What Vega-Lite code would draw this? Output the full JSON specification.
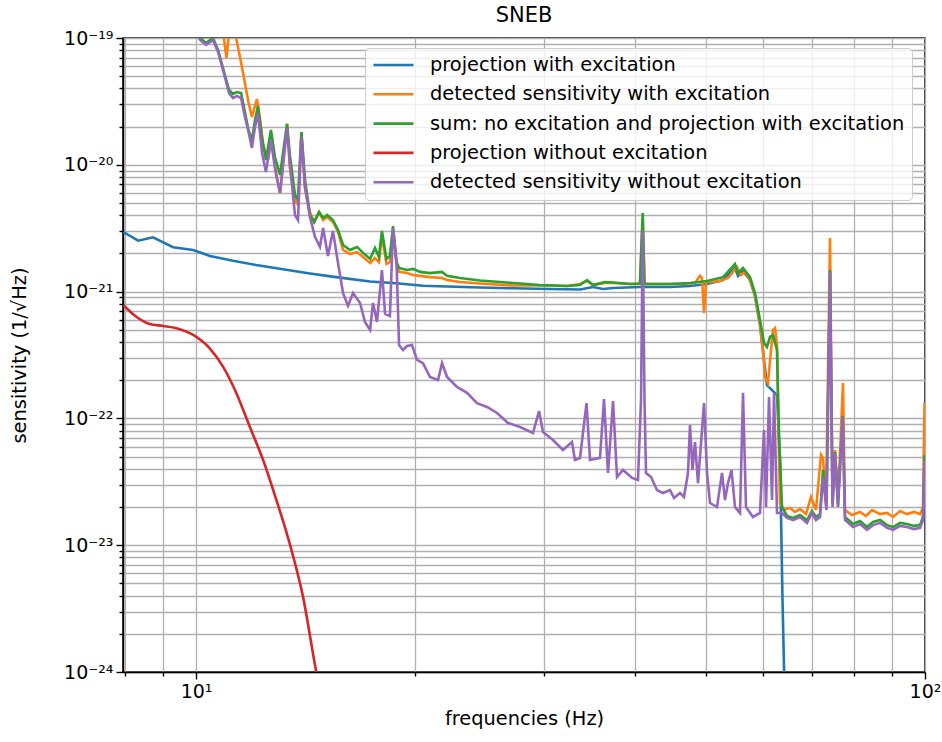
{
  "$schema": "https://vega.github.io/schema/vega-lite/v6.json",
  "width": 802,
  "height": 634,
  "autosize": {"type": "none"},
  "padding": {"left": 123, "top": 38, "right": 17, "bottom": 70},
  "background": "white",
  "title": {"text": "SNEB", "fontSize": 21, "fontWeight": "normal", "font": "DejaVu Sans", "color": "black", "frame": "group", "anchor": "middle", "offset": 3},
  "config": {
    "font": "DejaVu Sans",
    "view": {"stroke": "black", "strokeWidth": 1.5},
    "axis": {
      "grid": true, "gridColor": "#b0b0b0", "gridWidth": 1.3,
      "domainColor": "black", "domainWidth": 1.5,
      "tickColor": "black", "tickWidth": 1.4,
      "labelColor": "black", "labelFont": "DejaVu Sans", "labelFontSize": 19,
      "labelFlush": false, "labelOverlap": false, "labelBound": false,
      "titleFont": "DejaVu Sans", "titleFontSize": 19.4, "titleFontWeight": "normal", "titleColor": "black"
    },
    "legend": {
      "orient": "none", "legendX": 242, "legendY": 10,
      "padding": 7, "fillColor": "rgba(255,255,255,0.8)", "strokeColor": "#cccccc", "cornerRadius": 4,
      "symbolType": "stroke", "symbolSize": 1600, "symbolStrokeWidth": 2.6,
      "labelFont": "DejaVu Sans", "labelFontSize": 19.4, "labelColor": "black", "labelLimit": 700, "labelOffset": 15,
      "clipHeight": 20, "rowPadding": 9.3
    }
  },
  "encoding": {
    "x": {
      "field": "f", "type": "quantitative",
      "scale": {"type": "log", "domain": [7.94, 100], "nice": false},
      "axis": {
        "title": "frequencies (Hz)", "titlePadding": 8,
        "values": [8, 9, 10, 20, 30, 40, 50, 60, 70, 80, 90, 100],
        "labelExpr": "datum.value == 10 ? '10¹' : (datum.value == 100 ? '10²' : '')",
        "tickSize": {"condition": {"test": "datum.value == 10 || datum.value == 100", "value": 7}, "value": 4},
        "labelPadding": 3
      }
    },
    "y": {
      "field": "s", "type": "quantitative",
      "scale": {"type": "log", "domain": [1e-24, 1e-19], "nice": false},
      "axis": {
        "title": "sensitivity (1/√Hz)", "titlePadding": 34,
        "values": [1e-24, 2e-24, 3e-24, 4e-24, 5e-24, 6e-24, 7e-24, 8e-24, 9e-24, 1e-23, 2e-23, 3e-23, 4e-23, 5e-23, 6e-23, 7e-23, 8e-23, 9e-23, 1e-22, 2e-22, 3e-22, 4e-22, 5e-22, 6e-22, 7e-22, 8e-22, 9e-22, 1e-21, 2e-21, 3e-21, 4e-21, 5e-21, 6e-21, 7e-21, 8e-21, 9e-21, 1e-20, 2e-20, 3e-20, 4e-20, 5e-20, 6e-20, 7e-20, 8e-20, 9e-20, 1e-19],
        "labelExpr": "indexof([1e-24,1e-23,1e-22,1e-21,1e-20,1e-19], datum.value) < 0 ? '' : ['10⁻²⁴','10⁻²³','10⁻²²','10⁻²¹','10⁻²⁰','10⁻¹⁹'][indexof([1e-24,1e-23,1e-22,1e-21,1e-20,1e-19], datum.value)]",
        "tickSize": {"condition": {"test": "indexof([1e-24,1e-23,1e-22,1e-21,1e-20,1e-19], datum.value) >= 0", "value": 7}, "value": 4},
        "labelPadding": 3
      }
    }
  },
  "layer": [
    {
      "data": {"values": [
        {"f":7.95,"s":2.95e-21},{"f":8.33,"s":2.52e-21},{"f":8.73,"s":2.68e-21},{"f":9.30,"s":2.24e-21},{"f":9.91,"s":2.13e-21},{"f":10.45,"s":1.91e-21},{"f":11.24,"s":1.75e-21},{"f":12.09,"s":1.62e-21},{"f":13.16,"s":1.50e-21},{"f":14.33,"s":1.39e-21},{"f":15.56,"s":1.30e-21},{"f":17.33,"s":1.20e-21},{"f":18.81,"s":1.163e-21},{"f":20.48,"s":1.113e-21},{"f":22.10,"s":1.096e-21},{"f":24.52,"s":1.077e-21},{"f":27.22,"s":1.062e-21},{"f":30.59,"s":1.048e-21},{"f":33.63,"s":1.038e-21},{"f":35.04,"s":1.087e-21},{"f":36.16,"s":1.048e-21},{"f":37.33,"s":1.067e-21},{"f":40.64,"s":1.087e-21},{"f":44.69,"s":1.087e-21},{"f":47.60,"s":1.107e-21},{"f":50.23,"s":1.148e-21},{"f":52.84,"s":1.234e-21},{"f":54.87,"s":1.535e-21},{"f":55.40,"s":1.33e-21},{"f":56.28,"s":1.45e-21},{"f":57.54,"s":1.234e-21},{"f":58.45,"s":9.23e-22},{"f":59.38,"s":5.45e-22},{"f":60.14,"s":2.89e-22},{"f":60.71,"s":1.83e-22},{"f":61.68,"s":1.67e-22},{"f":62.66,"s":1.53e-22},{"f":63.26,"s":4.70e-23},{"f":63.76,"s":3.70e-24},{"f":64.16,"s":7.2e-25}
      ]},
      "mark": {"type": "line", "clip": true, "strokeWidth": 2.6},
      "encoding": {
        "color": {
          "datum": "projection with excitation", "type": "nominal",
          "scale": {
            "domain": ["projection with excitation", "detected sensitivity with excitation", "sum: no excitation and projection with excitation", "projection without excitation", "detected sensitivity without excitation"],
            "range": ["#1f77b4", "#ff7f0e", "#2ca02c", "#d62728", "#9467bd"]
          },
          "legend": {"title": null}
        }
      }
    },
    {
      "data": {"values": [
        {"f":10.75,"s":1.16e-19},{"f":10.92,"s":1.0e-19},{"f":11.01,"s":6.95e-20},{"f":11.08,"s":1.0e-19},{"f":11.20,"s":1.16e-19},{"f":11.35,"s":1.0e-19},{"f":11.49,"s":7.08e-20},{"f":11.67,"s":4.42e-20},{"f":11.80,"s":3.13e-20},{"f":11.93,"s":2.38e-20},{"f":12.12,"s":3.30e-20},{"f":12.24,"s":2.30e-20},{"f":12.36,"s":1.43e-20},{"f":12.55,"s":1.091e-20},{"f":12.71,"s":1.63e-20},{"f":12.89,"s":8.16e-21},{"f":13.04,"s":5.99e-21},{"f":13.33,"s":2.10e-20},{"f":13.45,"s":9.44e-21},{"f":13.67,"s":5.28e-21},{"f":13.80,"s":4.82e-21},{"f":13.95,"s":1.81e-20},{"f":14.11,"s":6.45e-21},{"f":14.33,"s":4.24e-21},{"f":14.52,"s":3.54e-21},{"f":14.75,"s":4.24e-21},{"f":14.94,"s":3.67e-21},{"f":15.13,"s":3.88e-21},{"f":15.41,"s":3.54e-21},{"f":15.66,"s":2.95e-21},{"f":15.91,"s":2.13e-21},{"f":16.26,"s":1.98e-21},{"f":16.63,"s":2.05e-21},{"f":16.95,"s":1.875e-21},{"f":17.33,"s":1.68e-21},{"f":17.60,"s":1.84e-21},{"f":17.82,"s":1.71e-21},{"f":17.99,"s":2.74e-21},{"f":18.25,"s":1.65e-21},{"f":18.45,"s":1.71e-21},{"f":18.63,"s":3.06e-21},{"f":18.84,"s":1.62e-21},{"f":18.99,"s":1.43e-21},{"f":19.47,"s":1.40e-21},{"f":19.85,"s":1.35e-21},{"f":20.29,"s":1.33e-21},{"f":20.94,"s":1.30e-21},{"f":21.75,"s":1.28e-21},{"f":22.10,"s":1.234e-21},{"f":23.02,"s":1.19e-21},{"f":24.52,"s":1.158e-21},{"f":27.22,"s":1.117e-21},{"f":30.30,"s":1.117e-21},{"f":32.28,"s":1.107e-21},{"f":33.63,"s":1.148e-21},{"f":34.39,"s":1.212e-21},{"f":35.04,"s":1.127e-21},{"f":36.39,"s":1.169e-21},{"f":37.33,"s":1.169e-21},{"f":39.39,"s":1.148e-21},{"f":40.64,"s":1.148e-21},{"f":41.00,"s":3.81e-21},{"f":41.23,"s":1.148e-21},{"f":43.30,"s":1.148e-21},{"f":46.12,"s":1.148e-21},{"f":48.36,"s":1.169e-21},{"f":49.13,"s":1.33e-21},{"f":49.44,"s":1.28e-21},{"f":49.76,"s":6.78e-22},{"f":50.07,"s":1.19e-21},{"f":51.03,"s":1.19e-21},{"f":52.33,"s":1.212e-21},{"f":53.67,"s":1.28e-21},{"f":54.53,"s":1.43e-21},{"f":55.22,"s":1.56e-21},{"f":55.92,"s":1.35e-21},{"f":56.63,"s":1.43e-21},{"f":57.54,"s":1.234e-21},{"f":58.45,"s":9.40e-22},{"f":59.38,"s":5.45e-22},{"f":59.95,"s":3.46e-22},{"f":60.33,"s":2.12e-22},{"f":60.90,"s":1.90e-22},{"f":61.49,"s":3.46e-22},{"f":61.87,"s":4.98e-22},{"f":62.27,"s":5.16e-22},{"f":62.66,"s":3.79e-22},{"f":62.96,"s":7.67e-23},{"f":63.26,"s":2.15e-23},{"f":64.06,"s":1.895e-23},{"f":65.28,"s":1.97e-23},{"f":66.33,"s":1.83e-23},{"f":67.38,"s":1.93e-23},{"f":68.67,"s":1.76e-23},{"f":69.76,"s":2.40e-23},{"f":70.87,"s":1.895e-23},{"f":72.00,"s":5.15e-23},{"f":72.46,"s":4.87e-23},{"f":73.15,"s":2.08e-23},{"f":74.08,"s":2.65e-21},{"f":74.67,"s":2.27e-23},{"f":75.26,"s":5.63e-23},{"f":75.97,"s":2.27e-23},{"f":77.18,"s":1.90e-22},{"f":77.67,"s":1.895e-23},{"f":79.41,"s":1.73e-23},{"f":81.44,"s":1.83e-23},{"f":82.99,"s":1.70e-23},{"f":84.59,"s":1.895e-23},{"f":86.76,"s":1.76e-23},{"f":88.70,"s":1.795e-23},{"f":90.40,"s":1.67e-23},{"f":92.42,"s":1.86e-23},{"f":94.47,"s":1.76e-23},{"f":96.58,"s":1.83e-23},{"f":98.43,"s":1.76e-23},{"f":99.37,"s":1.97e-23},{"f":99.84,"s":1.32e-22}
      ]},
      "mark": {"type": "line", "clip": true, "strokeWidth": 2.6},
      "encoding": {"color": {"datum": "detected sensitivity with excitation", "type": "nominal"}}
    },
    {
      "data": {"values": [
        {"f":9.97,"s":1.27e-19},{"f":10.13,"s":1.0e-19},{"f":10.32,"s":9.13e-20},{"f":10.55,"s":1.0e-19},{"f":10.72,"s":8.04e-20},{"f":10.89,"s":5.80e-20},{"f":11.10,"s":3.89e-20},{"f":11.24,"s":3.62e-20},{"f":11.38,"s":3.75e-20},{"f":11.53,"s":3.68e-20},{"f":11.67,"s":2.61e-20},{"f":11.80,"s":1.88e-20},{"f":11.93,"s":1.57e-20},{"f":12.05,"s":2.26e-20},{"f":12.16,"s":2.91e-20},{"f":12.32,"s":1.63e-20},{"f":12.47,"s":1.091e-20},{"f":12.67,"s":1.88e-20},{"f":12.83,"s":1.152e-20},{"f":13.04,"s":8.31e-21},{"f":13.33,"s":2.10e-20},{"f":13.45,"s":1.195e-20},{"f":13.67,"s":5.78e-21},{"f":13.80,"s":5.28e-21},{"f":13.95,"s":1.81e-20},{"f":14.11,"s":7.59e-21},{"f":14.33,"s":4.02e-21},{"f":14.52,"s":3.54e-21},{"f":14.75,"s":4.24e-21},{"f":14.94,"s":3.81e-21},{"f":15.13,"s":4.02e-21},{"f":15.41,"s":3.67e-21},{"f":15.66,"s":3.06e-21},{"f":15.91,"s":2.33e-21},{"f":16.26,"s":2.13e-21},{"f":16.63,"s":2.25e-21},{"f":16.95,"s":2.02e-21},{"f":17.33,"s":1.81e-21},{"f":17.60,"s":2.21e-21},{"f":17.82,"s":1.875e-21},{"f":17.99,"s":3.01e-21},{"f":18.25,"s":1.81e-21},{"f":18.45,"s":1.91e-21},{"f":18.63,"s":3.29e-21},{"f":18.84,"s":1.71e-21},{"f":18.99,"s":1.535e-21},{"f":19.47,"s":1.48e-21},{"f":19.85,"s":1.51e-21},{"f":20.29,"s":1.43e-21},{"f":20.94,"s":1.40e-21},{"f":21.75,"s":1.43e-21},{"f":22.10,"s":1.33e-21},{"f":23.02,"s":1.28e-21},{"f":24.52,"s":1.223e-21},{"f":27.22,"s":1.169e-21},{"f":29.64,"s":1.127e-21},{"f":32.28,"s":1.107e-21},{"f":33.63,"s":1.127e-21},{"f":34.39,"s":1.234e-21},{"f":35.04,"s":1.127e-21},{"f":36.39,"s":1.19e-21},{"f":37.33,"s":1.18e-21},{"f":39.39,"s":1.148e-21},{"f":40.64,"s":1.158e-21},{"f":41.00,"s":4.17e-21},{"f":41.23,"s":1.148e-21},{"f":44.69,"s":1.148e-21},{"f":47.60,"s":1.169e-21},{"f":50.23,"s":1.212e-21},{"f":52.84,"s":1.30e-21},{"f":54.87,"s":1.65e-21},{"f":55.40,"s":1.40e-21},{"f":56.28,"s":1.535e-21},{"f":57.54,"s":1.30e-21},{"f":58.45,"s":9.75e-22},{"f":59.38,"s":5.97e-22},{"f":60.14,"s":3.93e-22},{"f":60.71,"s":3.66e-22},{"f":61.29,"s":4.39e-22},{"f":61.87,"s":4.55e-22},{"f":62.66,"s":3.46e-22},{"f":63.06,"s":7.13e-23},{"f":63.66,"s":2.00e-23},{"f":64.67,"s":1.70e-23},{"f":65.91,"s":1.64e-23},{"f":67.38,"s":1.73e-23},{"f":68.89,"s":1.58e-23},{"f":69.98,"s":1.86e-23},{"f":70.87,"s":1.67e-23},{"f":71.78,"s":1.76e-23},{"f":72.46,"s":3.92e-23},{"f":73.26,"s":2.08e-23},{"f":74.08,"s":1.48e-21},{"f":74.67,"s":2.11e-23},{"f":75.26,"s":5.43e-23},{"f":75.97,"s":2.08e-23},{"f":77.11,"s":1.045e-22},{"f":77.67,"s":1.67e-23},{"f":79.66,"s":1.47e-23},{"f":81.44,"s":1.55e-23},{"f":83.26,"s":1.39e-23},{"f":84.86,"s":1.525e-23},{"f":86.76,"s":1.58e-23},{"f":88.70,"s":1.44e-23},{"f":90.40,"s":1.39e-23},{"f":92.42,"s":1.50e-23},{"f":94.47,"s":1.47e-23},{"f":96.58,"s":1.42e-23},{"f":98.43,"s":1.44e-23},{"f":99.37,"s":1.67e-23},{"f":99.84,"s":5.15e-23}
      ]},
      "mark": {"type": "line", "clip": true, "strokeWidth": 2.6},
      "encoding": {"color": {"datum": "sum: no excitation and projection with excitation", "type": "nominal"}}
    },
    {
      "data": {"values": [
        {"f":7.95,"s":7.8e-22},{"f":8.28,"s":6.34e-22},{"f":8.64,"s":5.55e-22},{"f":9.01,"s":5.36e-22},{"f":9.40,"s":5.14e-22},{"f":9.91,"s":4.55e-22},{"f":10.44,"s":3.57e-22},{"f":10.89,"s":2.56e-22},{"f":11.36,"s":1.58e-22},{"f":11.85,"s":8.60e-23},{"f":12.36,"s":4.70e-23},{"f":12.89,"s":2.27e-23},{"f":13.44,"s":1.035e-23},{"f":14.02,"s":3.93e-24},{"f":14.62,"s":1.005e-24},{"f":14.79,"s":7.2e-25}
      ]},
      "mark": {"type": "line", "clip": true, "strokeWidth": 2.6, "interpolate": "monotone"},
      "encoding": {"color": {"datum": "projection without excitation", "type": "nominal"}}
    },
    {
      "data": {"values": [
        {"f":9.88,"s":1.27e-19},{"f":10.13,"s":9.64e-20},{"f":10.32,"s":8.81e-20},{"f":10.55,"s":9.64e-20},{"f":10.72,"s":7.76e-20},{"f":10.89,"s":5.59e-20},{"f":11.10,"s":3.68e-20},{"f":11.24,"s":3.36e-20},{"f":11.38,"s":3.49e-20},{"f":11.53,"s":3.36e-20},{"f":11.67,"s":2.38e-20},{"f":11.79,"s":1.88e-20},{"f":11.93,"s":1.36e-20},{"f":12.05,"s":1.99e-20},{"f":12.16,"s":2.56e-20},{"f":12.32,"s":1.24e-20},{"f":12.47,"s":8.78e-21},{"f":12.67,"s":1.57e-20},{"f":12.83,"s":9.44e-21},{"f":13.04,"s":5.99e-21},{"f":13.33,"s":1.95e-20},{"f":13.45,"s":1.033e-20},{"f":13.67,"s":4.02e-21},{"f":13.80,"s":3.67e-21},{"f":13.95,"s":1.66e-20},{"f":14.11,"s":6.68e-21},{"f":14.33,"s":3.88e-21},{"f":14.56,"s":2.70e-21},{"f":14.79,"s":2.25e-21},{"f":14.94,"s":3.17e-21},{"f":15.17,"s":1.91e-21},{"f":15.41,"s":3.01e-21},{"f":15.66,"s":1.68e-21},{"f":15.91,"s":9.75e-22},{"f":16.16,"s":7.70e-22},{"f":16.42,"s":9.75e-22},{"f":16.79,"s":8.13e-22},{"f":17.05,"s":5.76e-22},{"f":17.33,"s":4.98e-22},{"f":17.49,"s":8.13e-22},{"f":17.71,"s":5.76e-22},{"f":17.99,"s":1.48e-21},{"f":18.17,"s":6.66e-22},{"f":18.45,"s":6.42e-22},{"f":18.63,"s":3.17e-21},{"f":18.84,"s":1.68e-21},{"f":18.99,"s":3.79e-22},{"f":19.23,"s":3.46e-22},{"f":19.47,"s":3.72e-22},{"f":19.78,"s":3.79e-22},{"f":20.10,"s":2.89e-22},{"f":20.48,"s":2.73e-22},{"f":20.94,"s":2.12e-22},{"f":21.48,"s":2.01e-22},{"f":21.75,"s":2.73e-22},{"f":22.10,"s":2.12e-22},{"f":22.80,"s":1.77e-22},{"f":23.54,"s":1.59e-22},{"f":24.29,"s":1.32e-22},{"f":25.07,"s":1.23e-22},{"f":25.88,"s":1.103e-22},{"f":26.79,"s":9.20e-23},{"f":27.83,"s":8.55e-23},{"f":28.99,"s":7.67e-23},{"f":29.55,"s":1.144e-22},{"f":29.92,"s":7.81e-23},{"f":30.88,"s":6.76e-23},{"f":31.87,"s":5.63e-23},{"f":32.79,"s":6.51e-23},{"f":33.10,"s":4.70e-23},{"f":33.63,"s":4.87e-23},{"f":34.33,"s":1.32e-22},{"f":34.71,"s":4.70e-23},{"f":35.82,"s":4.87e-23},{"f":36.28,"s":1.42e-22},{"f":36.74,"s":3.71e-23},{"f":37.33,"s":1.37e-22},{"f":37.80,"s":3.45e-23},{"f":38.52,"s":3.92e-23},{"f":39.64,"s":3.39e-23},{"f":40.39,"s":3.27e-23},{"f":40.78,"s":1.40e-22},{"f":41.00,"s":3.06e-21},{"f":41.23,"s":1.40e-22},{"f":41.43,"s":3.71e-23},{"f":42.09,"s":3.45e-23},{"f":42.89,"s":2.72e-23},{"f":43.71,"s":2.58e-23},{"f":44.69,"s":2.72e-23},{"f":45.26,"s":2.36e-23},{"f":46.12,"s":2.58e-23},{"f":46.71,"s":2.40e-23},{"f":47.30,"s":3.71e-23},{"f":47.60,"s":8.87e-23},{"f":47.98,"s":3.92e-23},{"f":48.36,"s":6.51e-23},{"f":48.82,"s":3.09e-23},{"f":49.76,"s":1.32e-22},{"f":50.23,"s":3.71e-23},{"f":50.71,"s":2.15e-23},{"f":51.84,"s":2.00e-23},{"f":52.67,"s":3.71e-23},{"f":53.17,"s":2.27e-23},{"f":53.67,"s":3.09e-23},{"f":54.27,"s":3.92e-23},{"f":54.87,"s":2.00e-23},{"f":55.75,"s":1.795e-23},{"f":56.28,"s":1.59e-22},{"f":56.81,"s":2.00e-23},{"f":58.08,"s":1.67e-23},{"f":59.38,"s":1.795e-23},{"f":60.14,"s":8.10e-23},{"f":60.52,"s":2.00e-23},{"f":61.10,"s":1.475e-22},{"f":61.68,"s":2.27e-23},{"f":62.07,"s":1.59e-22},{"f":62.66,"s":1.795e-23},{"f":63.66,"s":1.795e-23},{"f":64.67,"s":1.64e-23},{"f":65.91,"s":1.58e-23},{"f":67.38,"s":1.67e-23},{"f":68.89,"s":1.50e-23},{"f":69.98,"s":1.795e-23},{"f":70.87,"s":1.58e-23},{"f":71.78,"s":1.67e-23},{"f":72.46,"s":3.45e-23},{"f":73.26,"s":1.895e-23},{"f":74.08,"s":1.43e-21},{"f":74.67,"s":2.00e-23},{"f":75.26,"s":5.34e-23},{"f":75.97,"s":2.00e-23},{"f":77.11,"s":1.026e-22},{"f":77.67,"s":1.58e-23},{"f":79.66,"s":1.39e-23},{"f":81.44,"s":1.47e-23},{"f":83.26,"s":1.32e-23},{"f":84.86,"s":1.44e-23},{"f":86.76,"s":1.50e-23},{"f":88.70,"s":1.37e-23},{"f":90.40,"s":1.32e-23},{"f":92.42,"s":1.42e-23},{"f":94.47,"s":1.39e-23},{"f":96.58,"s":1.34e-23},{"f":98.43,"s":1.37e-23},{"f":99.37,"s":1.58e-23},{"f":99.84,"s":4.70e-23}
      ]},
      "mark": {"type": "line", "clip": true, "strokeWidth": 2.6},
      "encoding": {"color": {"datum": "detected sensitivity without excitation", "type": "nominal"}}
    }
  ]
}
